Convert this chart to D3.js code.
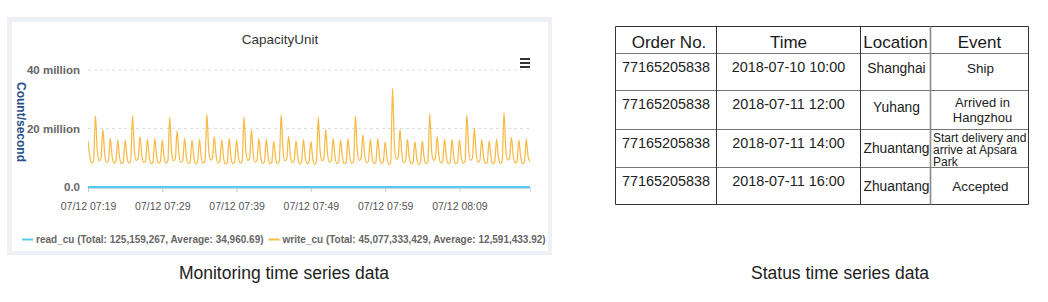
<!DOCTYPE html>
<html>
<head>
<meta charset="utf-8">
<script src="https://cdnjs.cloudflare.com/ajax/libs/d3/7.8.5/d3.min.js"></script>
<style>
body { margin: 0; background: #fff; }
svg { font-family: "Liberation Sans", Arial, Helvetica, sans-serif; display: block; }
</style>
</head>
<body>
<div id="chart"></div>
<script>
// Data.
// write_cu in millions, one row per minute, samples every 15 s (:00 :15 :30 :45)
var START = "2018-07-12 07:19:00";
var STEP_SECONDS = 15;
var writeCu = [
    [15.7, 10.4, 8.2, 8.9], [24.3, 12.6, 9.0, 9.8], [19.7, 11.2, 8.4, 9.0], [16.6, 10.3, 8.1, 8.7], [16.0, 10.1, 8.0, 8.6],
    [16.0, 10.2, 8.2, 8.8], [24.4, 12.4, 9.1, 9.7], [17.2, 10.7, 8.3, 8.8], [16.3, 10.2, 8.0, 8.6], [16.6, 10.3, 8.2, 8.7],
    [16.0, 10.1, 8.1, 8.8], [23.8, 12.2, 9.0, 9.6], [19.3, 11.1, 8.4, 8.9], [16.6, 10.2, 8.0, 8.5], [16.0, 10.1, 7.9, 8.5],
    [16.3, 10.3, 8.1, 8.8], [24.9, 12.6, 9.2, 9.8], [17.2, 10.6, 8.2, 8.7], [16.0, 10.0, 7.8, 8.4], [16.6, 10.2, 8.0, 8.6],
    [16.0, 10.1, 8.1, 8.8], [24.0, 12.4, 9.1, 9.7], [19.5, 11.2, 8.5, 9.0], [16.6, 10.3, 8.1, 8.6], [16.3, 10.1, 8.0, 8.5],
    [15.7, 10.0, 8.0, 8.7], [24.6, 12.5, 9.0, 9.6], [17.4, 10.7, 8.3, 8.8], [15.8, 10.0, 7.9, 8.5], [16.3, 10.2, 8.0, 8.6],
    [15.6, 9.9, 7.7, 8.7], [23.8, 12.2, 9.0, 9.7], [19.7, 11.3, 8.5, 9.0], [16.6, 10.3, 8.1, 8.6], [16.0, 10.1, 8.0, 8.5],
    [16.6, 10.2, 8.1, 8.8], [24.3, 12.3, 9.1, 9.7], [17.8, 10.8, 8.3, 8.8], [16.3, 10.1, 8.0, 8.5], [16.6, 10.2, 8.1, 8.6],
    [15.3, 9.8, 7.7, 8.4], [33.8, 14.0, 9.5, 10.1], [19.7, 11.3, 8.4, 8.9], [16.3, 10.1, 7.9, 8.5], [15.5, 9.9, 7.7, 8.3],
    [15.7, 10.0, 7.9, 8.6], [25.0, 12.6, 9.1, 9.7], [17.2, 10.6, 8.2, 8.7], [16.3, 10.2, 8.0, 8.5], [16.3, 10.1, 8.0, 8.6],
    [16.0, 10.1, 8.1, 8.8], [24.6, 12.5, 9.1, 9.8], [20.0, 11.4, 8.5, 9.0], [16.3, 10.2, 8.0, 8.5], [15.8, 10.0, 7.9, 8.5],
    [16.3, 10.2, 8.1, 8.7], [25.4, 12.7, 9.2, 9.8], [17.0, 10.6, 8.2, 8.7], [16.0, 10.1, 8.0, 8.6], [16.3, 10.3, 8.7]
];
// read_cu in thousands, one sample per minute
var readCuK = [35, 34, 36, 35, 33, 35, 37, 34, 35, 36, 34, 35, 36, 35, 34, 35, 36, 34, 35, 35,
               34, 36, 35, 35, 34, 35, 37, 35, 34, 35, 36, 34, 35, 35, 36, 34, 35, 36, 35, 34,
               35, 38, 35, 34, 35, 36, 35, 34, 35, 35, 36, 34, 35, 35, 34, 36, 35, 34, 35, 35, 35];
var yTicks = [0, 20, 40];
var yTickLabels = ["0.0", "20 million", "40 million"];
var xTicks = ["2018-07-12 07:19:00", "2018-07-12 07:29:00", "2018-07-12 07:39:00",
              "2018-07-12 07:49:00", "2018-07-12 07:59:00", "2018-07-12 08:09:00"];
var xTickLabels = ["07/12 07:19", "07/12 07:29", "07/12 07:39", "07/12 07:49", "07/12 07:59", "07/12 08:09"];
var seriesNames = ["read_cu", "write_cu"];
var seriesTotals = ["125,159,267", "45,077,333,429"];
var seriesAverages = ["34,960.69", "12,591,433.92"];
var seriesColors = ["#56cdee", "#f7ba45"];

var tableHeader = ["Order No.", "Time", "Location", "Event"];
var orderNos = ["77165205838", "77165205838", "77165205838", "77165205838"];
var times = ["2018-07-10 10:00", "2018-07-11 12:00", "2018-07-11 14:00", "2018-07-11 16:00"];
var locations = ["Shanghai", "Yuhang", "Zhuantang", "Zhuantang"];
var events = [["Ship"], ["Arrived in", "Hangzhou"], ["Start delivery and", "arrive at Apsara", "Park"], ["Accepted"]];
var captions = ["Monitoring time series data", "Status time series data"];

var W = 1048, H = 302;
var parseTime = d3.timeParse("%Y-%m-%d %H:%M:%S");
var svg = d3.select("#chart").append("svg").attr("width", W).attr("height", H);

/**
  * Draws the monitoring chart in its grey frame.
  */
function drawMonitor(){
    svg.append("rect").attr("x", 7).attr("y", 17).attr("width", 545).attr("height", 238).attr("fill", "#edf0f5");
    svg.append("rect").attr("x", 12).attr("y", 22).attr("width", 536).attr("height", 229).attr("fill", "#fff");

    var start = parseTime(START);
    var writePts = [];
    writeCu.forEach(function(row){
        row.forEach(function(v){
            writePts.push({t: d3.timeSecond.offset(start, writePts.length * STEP_SECONDS), v: v});
        });
    });
    var readPts = readCuK.map(function(v, i){ return {t: d3.timeMinute.offset(start, i), v: v / 1000}; });

    var x = d3.scaleTime().domain([start, writePts[writePts.length - 1].t]).range([88, 530]);
    var y = d3.scaleLinear().domain([0, 40]).range([187, 70]);

    svg.append("defs").append("clipPath").attr("id", "plotclip")
        .append("rect").attr("x", 88).attr("y", 60).attr("width", 442).attr("height", 130);

    // title + menu icon
    svg.append("text").attr("x", 280).attr("y", 44).attr("text-anchor", "middle")
        .attr("font-size", 13.5).attr("fill", "#333").text("CapacityUnit");
    [59, 63, 67].forEach(function(yy){
        svg.append("line").attr("x1", 520).attr("x2", 530).attr("y1", yy).attr("y2", yy)
            .attr("stroke", "#333").attr("stroke-width", 2);
    });

    // grid
    svg.append("g").selectAll("line").data(yTicks.filter(function(d){ return d > 0; })).join("line")
        .attr("x1", 88).attr("x2", 530)
        .attr("y1", function(d){ return y(d); }).attr("y2", function(d){ return y(d); })
        .attr("stroke", "#dedede").attr("stroke-dasharray", "3,3");

    // y labels
    svg.append("g").selectAll("text").data(yTicks).join("text")
        .attr("x", 80).attr("y", function(d){ return y(d) + 4; })
        .attr("text-anchor", "end").attr("font-size", 11.5).attr("font-weight", "bold").attr("fill", "#666")
        .text(function(d, i){ return yTickLabels[i]; });
    svg.append("text").attr("transform", "translate(21,122) rotate(90)")
        .attr("text-anchor", "middle").attr("dominant-baseline", "central")
        .attr("font-size", 12).attr("font-weight", "bold").attr("fill", "#274f8c").text("Count/second");

    // x axis
    var xAxis = d3.axisBottom(x).tickValues(xTicks.map(parseTime)).tickSize(4)
        .tickFormat(function(d, i){ return xTickLabels[i]; });
    var gx = svg.append("g").attr("transform", "translate(0,188)").call(xAxis);
    gx.select(".domain").attr("stroke", "#ccd6eb");
    gx.selectAll(".tick line").attr("stroke", "#c8c8c8");
    gx.selectAll(".tick text").attr("y", 15).attr("font-size", 10.5).attr("fill", "#555")
        .attr("font-family", "Liberation Sans, Arial, sans-serif");

    // series
    var line = d3.line().x(function(d){ return x(d.t); }).y(function(d){ return y(d.v); })
        .curve(d3.curveMonotoneX);
    var plot = svg.append("g").attr("clip-path", "url(#plotclip)");
    plot.append("path").datum(writePts).attr("d", line).attr("fill", "none")
        .attr("stroke", seriesColors[1]).attr("stroke-width", 1.25).attr("stroke-linejoin", "round");
    plot.append("path").datum(readPts).attr("d", line).attr("fill", "none")
        .attr("stroke", seriesColors[0]).attr("stroke-width", 2);

    // legend
    var lx = 22;
    seriesNames.forEach(function(name, i){
        svg.append("line").attr("x1", lx).attr("x2", lx + 11).attr("y1", 239.5).attr("y2", 239.5)
            .attr("stroke", seriesColors[i]).attr("stroke-width", 2);
        var t = svg.append("text").attr("x", lx + 14).attr("y", 243)
            .attr("font-size", 10).attr("font-weight", "bold").attr("fill", "#666")
            .text(name + " (Total: " + seriesTotals[i] + ", Average: " + seriesAverages[i] + ")");
        lx = lx + 14 + t.node().getComputedTextLength() + 5;
    });
}

/**
  * Draws the status table.
  */
function drawTable(){
    var colX = [615.5, 716.5, 860.5, 930.5, 1028.5];
    var rowY = [26.5, 53.5, 90.5, 129.5, 167.5, 204.5];
    var g = svg.append("g");

    // horizontal rules
    rowY.forEach(function(yy, i){
        g.append("line").attr("x1", colX[0]).attr("x2", colX[4]).attr("y1", yy).attr("y2", yy)
            .attr("stroke", (i == 0 || i == rowY.length - 1) ? "#333" : "#777").attr("stroke-width", 1);
    });
    colX.forEach(function(xx, i){
        g.append("line").attr("x1", xx).attr("x2", xx).attr("y1", rowY[0]).attr("y2", rowY[5])
            .attr("stroke", i == 3 ? "#8a8a8a" : "#333").attr("stroke-width", i == 3 ? 1.6 : 1);
    });

    // header
    tableHeader.forEach(function(h, i){
        g.append("text").attr("x", (colX[i] + colX[i + 1]) / 2 + (i == 0 ? 3 : 0)).attr("y", 47.5)
            .attr("text-anchor", "middle").attr("font-size", 17).attr("fill", "#1a1a1a").text(h);
    });

    for (var r = 0; r < orderNos.length; r++){
        var top = rowY[r + 1];
        g.append("text").attr("x", 622).attr("y", top + 18.5).attr("font-size", 14.4).attr("fill", "#222").text(orderNos[r]);
        g.append("text").attr("x", (colX[1] + colX[2]) / 2).attr("y", top + 18.5).attr("text-anchor", "middle")
            .attr("font-size", 14.4).attr("fill", "#222").text(times[r]);
        var locDy = [19.5, 21.5, 23, 23.5][r];
        g.append("text").attr("x", (colX[2] + colX[3]) / 2 + 1).attr("y", top + locDy).attr("text-anchor", "middle")
            .attr("font-size", 13.8).attr("fill", "#222").text(locations[r]);

        var ev = events[r];
        if (ev.length == 1){
            g.append("text").attr("x", (colX[3] + colX[4]) / 2 + 1).attr("y", top + 19 + (r == 3 ? 4 : 0))
                .attr("text-anchor", "middle").attr("font-size", 13.5).attr("fill", "#222").text(ev[0]);
        }
        else if (ev.length == 2){
            ev.forEach(function(s, k){
                g.append("text").attr("x", (colX[3] + colX[4]) / 2 + 3).attr("y", top + 16 + k * 15)
                    .attr("text-anchor", "middle").attr("font-size", 13).attr("fill", "#222").text(s);
            });
        }
        else {
            ev.forEach(function(s, k){
                g.append("text").attr("x", 933).attr("y", top + 12.5 + k * 12)
                    .attr("font-size", 12).attr("fill", "#222").text(s);
            });
        }
    }
}

/** Captions under both panels */
function drawCaptions(){
    svg.append("text").attr("x", 284).attr("y", 279).attr("text-anchor", "middle")
        .attr("font-size", 17.5).attr("fill", "#222").text(captions[0]);
    svg.append("text").attr("x", 840).attr("y", 279).attr("text-anchor", "middle")
        .attr("font-size", 17.5).attr("fill", "#222").text(captions[1]);
}

drawMonitor();
drawTable();
drawCaptions();
</script>
</body>
</html>
